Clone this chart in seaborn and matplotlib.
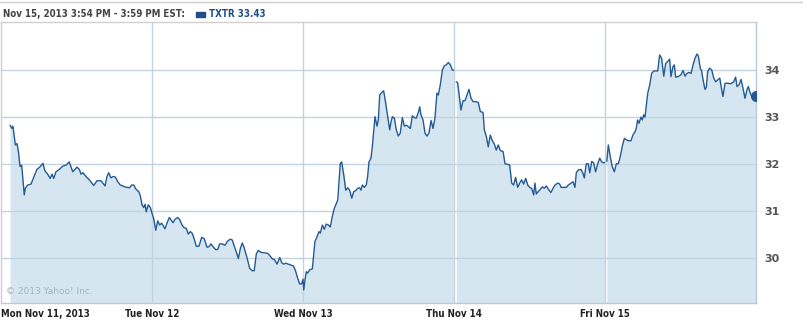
import numpy as np
import pandas as pd
import matplotlib
matplotlib.use("Agg")
import matplotlib.pyplot as plt
import seaborn as sns

# ---- data (time in trading days since Mon open, price in USD) ----
day_labels = ["Mon Nov 11, 2013", "Tue Nov 12", "Wed Nov 13", "Thu Nov 14", "Fri Nov 15"]
y_ticks = [30, 31, 32, 33, 34]
header_text = "Nov 15, 2013 3:54 PM - 3:59 PM EST:"
series_label = "TXTR 33.43"
last_price = 33.43

t_mon = [0.060, 0.071, 0.079, 0.095, 0.106, 0.117, 0.126, 0.137, 0.154, 0.161, 0.177, 0.199,
         0.210, 0.238, 0.260, 0.278, 0.291, 0.309, 0.326, 0.338, 0.349, 0.364, 0.386, 0.409,
         0.430, 0.452, 0.464, 0.475, 0.490, 0.503, 0.519, 0.530, 0.543, 0.563, 0.585, 0.614,
         0.636, 0.662, 0.689, 0.702, 0.713, 0.728, 0.742, 0.757, 0.773, 0.790, 0.806, 0.821,
         0.834, 0.850, 0.866, 0.879, 0.894, 0.912, 0.923, 0.934, 0.945, 0.954, 0.962, 0.975,
         0.989]
p_mon = [32.82, 32.75, 32.80, 32.40, 32.43, 32.22, 31.94, 31.97, 31.34, 31.48, 31.55, 31.57,
         31.66, 31.88, 31.94, 32.01, 31.85, 31.78, 31.69, 31.78, 31.69, 31.83, 31.88, 31.95,
         31.97, 32.04, 31.93, 31.83, 31.88, 31.93, 31.88, 31.78, 31.81, 31.73, 31.66, 31.54,
         31.64, 31.64, 31.53, 31.73, 31.81, 31.70, 31.73, 31.72, 31.62, 31.55, 31.53, 31.51,
         31.50, 31.49, 31.55, 31.55, 31.46, 31.41, 31.32, 31.13, 31.07, 31.14, 30.98, 31.13,
         31.07]

t_tue = [1.000, 1.011, 1.025, 1.038, 1.051, 1.064, 1.086, 1.099, 1.115, 1.126, 1.139, 1.152,
         1.170, 1.183, 1.199, 1.214, 1.227, 1.240, 1.254, 1.267, 1.280, 1.293, 1.311, 1.329,
         1.346, 1.364, 1.377, 1.391, 1.404, 1.422, 1.435, 1.448, 1.466, 1.483, 1.501, 1.519,
         1.532, 1.545, 1.558, 1.572, 1.585, 1.598, 1.611, 1.629, 1.647, 1.664, 1.677, 1.691,
         1.704, 1.722, 1.744, 1.766, 1.783, 1.797, 1.810, 1.828, 1.846, 1.859, 1.872, 1.885,
         1.903, 1.938, 1.952, 1.965, 1.978, 1.991]
p_tue = [30.95, 30.84, 30.59, 30.79, 30.70, 30.74, 30.62, 30.74, 30.86, 30.81, 30.75, 30.82,
         30.86, 30.82, 30.70, 30.64, 30.63, 30.51, 30.56, 30.52, 30.40, 30.25, 30.25, 30.44,
         30.41, 30.23, 30.24, 30.30, 30.24, 30.18, 30.18, 30.30, 30.30, 30.27, 30.36, 30.40,
         30.38, 30.25, 30.13, 29.99, 30.20, 30.32, 30.21, 30.01, 29.78, 29.73, 29.73, 30.09,
         30.16, 30.12, 30.11, 30.10, 30.04, 29.98, 29.97, 29.87, 30.01, 29.90, 29.87, 29.89,
         29.87, 29.83, 29.71, 29.57, 29.45, 29.45]

t_wed = [2.000, 2.005, 2.013, 2.022, 2.031, 2.044, 2.062, 2.079, 2.093, 2.106, 2.115, 2.128,
         2.141, 2.154, 2.168, 2.181, 2.194, 2.207, 2.230, 2.238, 2.247, 2.256, 2.270, 2.283,
         2.296, 2.309, 2.323, 2.336, 2.349, 2.362, 2.375, 2.384, 2.393, 2.406, 2.419, 2.428,
         2.437, 2.450, 2.459, 2.468, 2.477, 2.490, 2.499, 2.508, 2.521, 2.534, 2.548, 2.561,
         2.574, 2.583, 2.592, 2.605, 2.618, 2.631, 2.644, 2.658, 2.671, 2.684, 2.697, 2.711,
         2.724, 2.737, 2.750, 2.764, 2.773, 2.781, 2.795, 2.808, 2.821, 2.834, 2.848, 2.861,
         2.874, 2.887, 2.896, 2.909, 2.923, 2.936, 2.949, 2.962, 2.976, 2.989, 2.998]
p_wed = [29.55, 29.32, 29.53, 29.71, 29.68, 29.75, 29.77, 30.35, 30.45, 30.56, 30.53, 30.70,
         30.61, 30.72, 30.70, 30.66, 30.88, 31.05, 31.23, 31.59, 32.01, 32.04, 31.76, 31.44,
         31.49, 31.44, 31.27, 31.41, 31.43, 31.48, 31.49, 31.44, 31.55, 31.50, 31.55, 31.73,
         32.04, 32.12, 32.36, 32.68, 33.00, 32.80, 32.93, 33.46, 33.51, 33.55, 33.28, 33.00,
         32.72, 32.89, 33.00, 32.97, 32.72, 32.59, 32.65, 32.98, 32.80, 32.82, 32.79, 32.75,
         33.02, 32.98, 32.97, 33.09, 33.21, 33.04, 32.93, 32.65, 32.59, 32.65, 32.92, 32.75,
         32.97, 33.50, 33.46, 33.67, 33.99, 34.08, 34.10, 34.15, 34.10, 33.99, 33.99]

t_thu = [3.015, 3.024, 3.033, 3.046, 3.060, 3.073, 3.086, 3.099, 3.113, 3.126, 3.144, 3.161,
         3.174, 3.192, 3.201, 3.214, 3.227, 3.240, 3.254, 3.267, 3.280, 3.293, 3.307, 3.325,
         3.338, 3.356, 3.369, 3.382, 3.395, 3.408, 3.422, 3.435, 3.448, 3.461, 3.475, 3.488,
         3.501, 3.514, 3.528, 3.536, 3.545, 3.558, 3.572, 3.585, 3.598, 3.611, 3.625, 3.642,
         3.656, 3.669, 3.687, 3.700, 3.709, 3.726, 3.744, 3.757, 3.775, 3.788, 3.801, 3.810,
         3.823, 3.841, 3.854, 3.863, 3.876, 3.889, 3.899, 3.912, 3.925, 3.938, 3.952, 3.965,
         3.978, 3.991, 3.998]
p_thu = [33.74, 33.72, 33.50, 33.14, 33.34, 33.34, 33.46, 33.58, 33.39, 33.32, 33.32, 33.30,
         33.11, 33.09, 32.72, 32.58, 32.36, 32.61, 32.49, 32.42, 32.29, 32.40, 32.28, 32.26,
         32.00, 31.99, 31.97, 31.59, 31.55, 31.71, 31.50, 31.59, 31.66, 31.57, 31.69, 31.55,
         31.50, 31.48, 31.34, 31.59, 31.36, 31.41, 31.46, 31.51, 31.48, 31.53, 31.46, 31.39,
         31.48, 31.55, 31.59, 31.57, 31.50, 31.50, 31.50, 31.55, 31.59, 31.62, 31.50, 31.81,
         31.87, 31.88, 31.80, 31.70, 32.00, 32.00, 31.81, 32.05, 32.02, 31.83, 32.00, 32.12,
         32.04, 32.02, 32.03]

t_fri = [4.012, 4.022, 4.035, 4.048, 4.062, 4.075, 4.088, 4.101, 4.115, 4.128, 4.141, 4.154,
         4.172, 4.185, 4.199, 4.207, 4.216, 4.225, 4.238, 4.247, 4.256, 4.265, 4.274, 4.283,
         4.296, 4.309, 4.323, 4.336, 4.349, 4.362, 4.375, 4.389, 4.402, 4.415, 4.428, 4.437,
         4.450, 4.459, 4.468, 4.485, 4.503, 4.517, 4.530, 4.543, 4.556, 4.570, 4.583, 4.596,
         4.609, 4.618, 4.631, 4.640, 4.649, 4.662, 4.671, 4.680, 4.693, 4.707, 4.720, 4.733,
         4.746, 4.760, 4.773, 4.781, 4.795, 4.812, 4.834, 4.852, 4.865, 4.874, 4.887, 4.901,
         4.914, 4.927, 4.940, 4.949, 4.962, 4.975, 4.989, 5.000]
p_fri = [32.05, 32.40, 32.15, 31.94, 31.83, 32.00, 32.00, 32.15, 32.38, 32.54, 32.51, 32.49,
         32.49, 32.61, 32.68, 32.75, 32.93, 32.86, 32.99, 32.93, 33.04, 32.99, 33.25, 33.50,
         33.67, 33.92, 33.97, 33.97, 33.97, 34.31, 34.24, 33.86, 34.13, 34.17, 34.22, 33.85,
         34.06, 34.10, 33.84, 33.85, 33.89, 33.98, 33.86, 33.92, 33.94, 33.92, 34.10, 34.24,
         34.33, 34.29, 34.03, 33.97, 33.79, 33.58, 33.62, 33.96, 34.03, 33.99, 33.82, 33.74,
         33.78, 33.82, 33.57, 33.43, 33.71, 33.71, 33.70, 33.74, 33.84, 33.64, 33.67, 33.79,
         33.60, 33.39, 33.57, 33.64, 33.50, 33.41, 33.49, 33.43]

# ---- build table ----
segments = [
    ("a", t_mon + t_tue + t_wed, p_mon + p_tue + p_wed),
    ("b", t_thu, p_thu),
    ("c", t_fri, p_fri),
]
df = pd.concat([pd.DataFrame({"t": t, "price": p, "seg": s}) for s, t, p in segments],
               ignore_index=True)

LINE = "#235a94"
FILL = "#d6e6f1"
GRID = "#c3d3df"
SPINE = "#b9cbd9"

sns.set_style("white")
plt.rcParams["font.family"] = ["DejaVu Sans"]

fig = plt.figure(figsize=(8.04, 3.21), dpi=100)
ax = fig.add_axes([1 / 804, 18 / 321, 755 / 804, 281 / 321])

for s, g in df.groupby("seg"):
    ax.fill_between(g["t"], g["price"], 28, color=FILL, lw=0, zorder=1)

# gridlines on top of the fill
for yv in y_ticks:
    ax.axhline(yv, color=GRID, lw=1, zorder=2)
for xv in range(1, 5):
    ax.axvline(xv, color=GRID, lw=1, zorder=2)

sns.lineplot(data=df, x="t", y="price", units="seg", estimator=None, color=LINE,
             lw=1.0, ax=ax, zorder=3, legend=False)
ax.plot([5.0], [last_price], "o", color=LINE, ms=7, zorder=4, clip_on=True)

ax.set_xlim(0, 5)
ax.set_ylim(29.045, 35.01)
ax.set_xlabel("")
ax.set_ylabel("")

ax.set_xticks(range(5))
ax.set_xticklabels(day_labels)
ax.yaxis.tick_right()
ax.set_yticks(y_ticks)
ax.set_yticklabels([str(v) for v in y_ticks])
ax.tick_params(axis="both", length=0)
ax.tick_params(axis="x", pad=4, labelsize=7, labelcolor="#222222")
ax.tick_params(axis="y", pad=6, labelsize=8, labelcolor="#555555")
for lab in ax.get_xticklabels():
    lab.set_fontweight("bold")
    lab.set_fontstretch("condensed")
for lab in ax.get_yticklabels():
    lab.set_fontweight("bold")
ax.get_xticklabels()[0].set_horizontalalignment("left")

for side, sp in ax.spines.items():
    sp.set_visible(True)
    sp.set_color(SPINE)
    sp.set_linewidth(1)
ax.spines["top"].set_color("#d0d0d0")
ax.spines["left"].set_color("#d0d0d0")

ax.text(0.006, 0.025, "\u00a9 2013 Yahoo! Inc.", transform=ax.transAxes, fontsize=6.5,
        color="#aab4bd", ha="left", va="bottom", zorder=5)

# header
fig.add_artist(plt.Line2D([0, 1], [1 - 1.5 / 321, 1 - 1.5 / 321], color="#cccccc", lw=1))
fig.text(3 / 804, 1 - 14 / 321, header_text, fontsize=7, fontweight="bold",
         color="#444444", va="center", ha="left", fontstretch="condensed")
fig.add_artist(plt.Rectangle((196 / 804, 1 - 16.5 / 321), 9 / 804, 4.5 / 321,
                             color="#1f4e8c", transform=fig.transFigure))
fig.text(209 / 804, 1 - 14 / 321, series_label, fontsize=7, fontweight="bold",
         color="#1f4e8c", va="center", ha="left", fontstretch="condensed")

fig.savefig("out.png", dpi=100)
